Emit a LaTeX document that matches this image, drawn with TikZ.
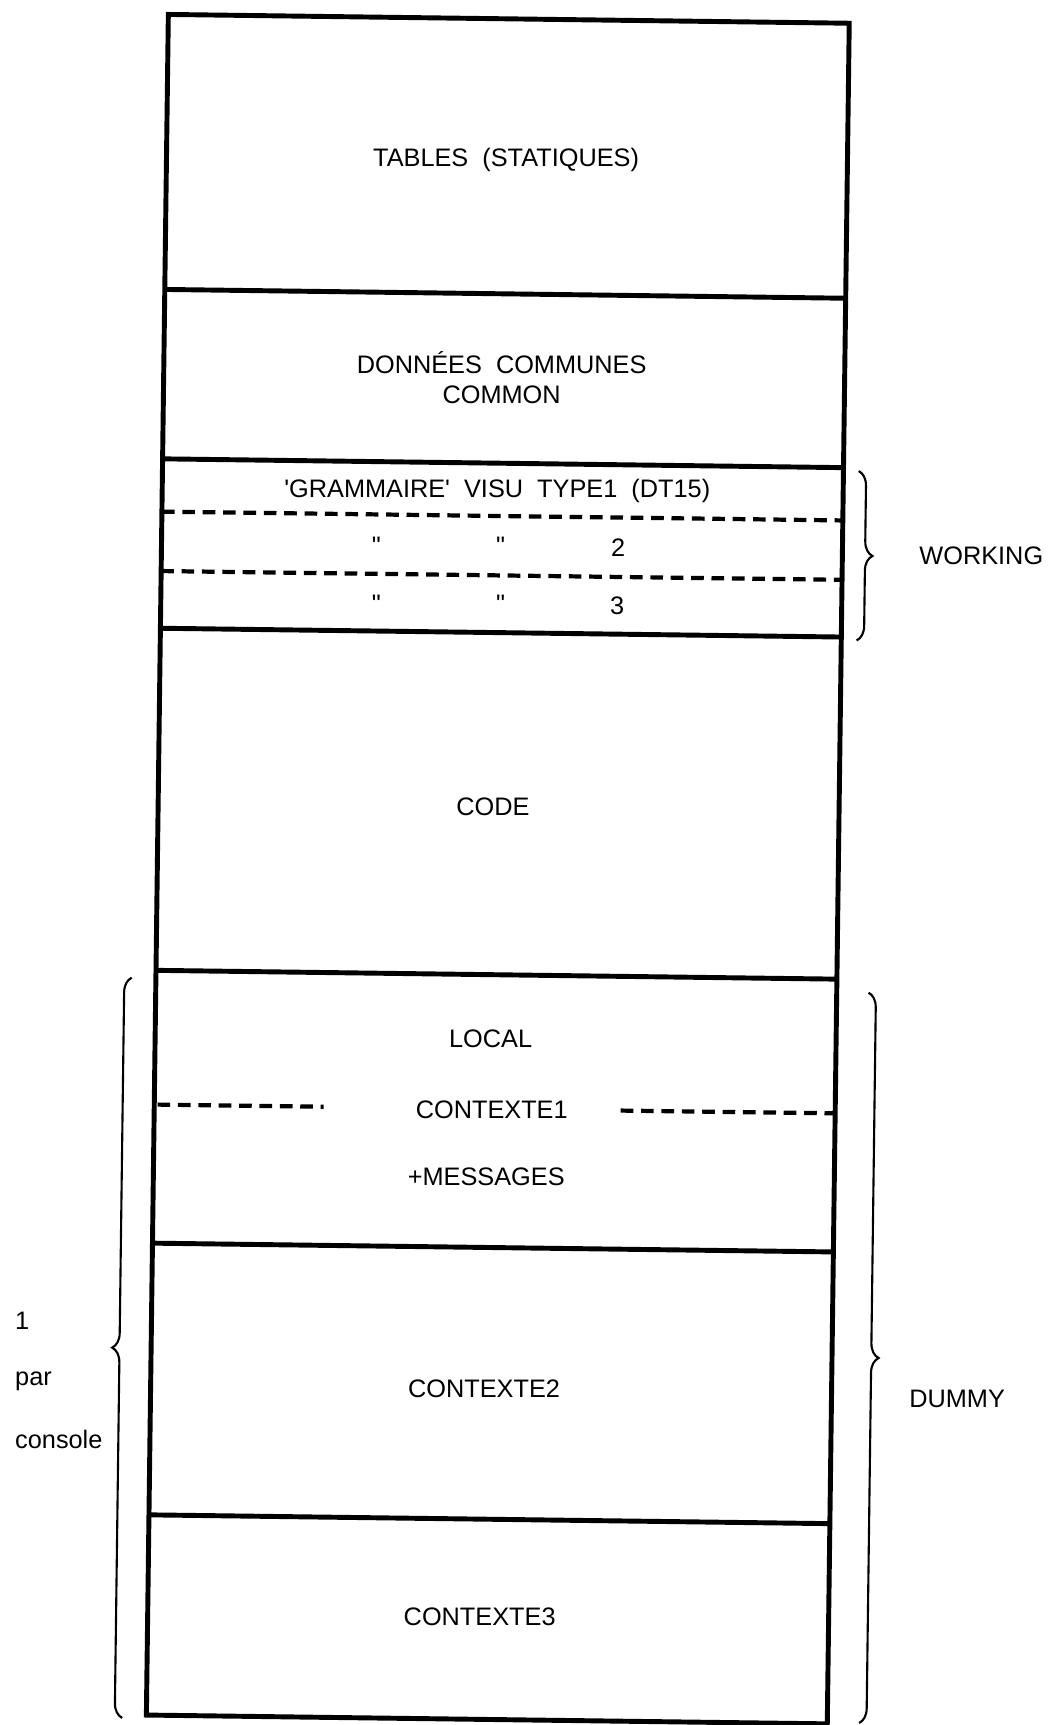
\documentclass[tikz,border=0pt]{standalone}
\usepackage{fontspec}
\setmainfont{Liberation Sans}
\usetikzlibrary{decorations.pathreplacing}
\tikzset{
  zone/.style={line width=1.4pt},
  sep/.style={line width=1.2pt, dash pattern=on 3.6pt off 2.2pt},
  lbl/.style={font=\fontsize{7.2}{8.6}\selectfont, inner sep=1pt},
  accol/.style={decorate, decoration={brace, amplitude=4.2pt}, line width=0.6pt},
}
\begin{document}
\begin{tikzpicture}[x=0.011cm, y=-0.011cm]
\useasboundingbox (0,0) rectangle (954,1568);
\begin{scope}[rotate around={-0.74:(450,790)}]
\draw[zone] (143,17) rectangle (762,1563);
\foreach \y in {267,421,575,886,1134,1381}
  \draw[zone] (143,\y) -- (762,\y);
\draw[sep] (143,469) -- (762,469);
\draw[sep] (143,523) -- (762,523);
\draw[sep] (146,1008) -- (297,1008);
\draw[sep] (567,1008) -- (760,1008);
\coordinate (wkh) at (776,424);
\coordinate (wkb) at (776,578);
\coordinate (dmh) at (791,898);
\coordinate (dmb) at (791,1562);
\coordinate (cnh) at (121,893);
\coordinate (cnb) at (121,1566);
\draw[accol] (wkh) -- (wkb);
\draw[accol] (dmh) -- (dmb);
\draw[accol] (cnb) -- (cnh);
\end{scope}
\node[lbl] (tab) at (460,145) {TABLES\ \ (STATIQUES)};
\node[lbl, align=center] (don) at (456,343) {DONNÉES\ \ COMMUNES\\COMMON};
\node[lbl] (gr1) at (452,446) {\textquotesingle GRAMMAIRE\textquotesingle\ \ VISU\ \ TYPE1\ \ (DT15)};
\node[lbl] (ga2) at (342,496) {\textquotedbl};
\node[lbl] (gb2) at (455,496) {\textquotedbl};
\node[lbl] (gr2) at (562,498) {2};
\node[lbl] (ga3) at (342,549) {\textquotedbl};
\node[lbl] (gb3) at (455,549) {\textquotedbl};
\node[lbl] (gr3) at (561,551) {3};
\node[lbl] (code) at (448,733) {CODE};
\node[lbl] (loc) at (446,944) {LOCAL};
\node[lbl] (ctx1) at (447,1009) {CONTEXTE1};
\node[lbl] (msg) at (442,1070) {+MESSAGES};
\node[lbl] (ctx2) at (440,1262) {CONTEXTE2};
\node[lbl] (ctx3) at (436,1470) {CONTEXTE3};
\node[lbl] (wk) at (892,505) {WORKING};
\node[lbl] (dm) at (870,1272) {DUMMY};
\node[lbl, anchor=west] (un) at (10,1201) {1};
\node[lbl, anchor=west] (par) at (10,1256) {par};
\node[lbl, anchor=west] (cons) at (10,1308) {console};
\end{tikzpicture}
\end{document}
